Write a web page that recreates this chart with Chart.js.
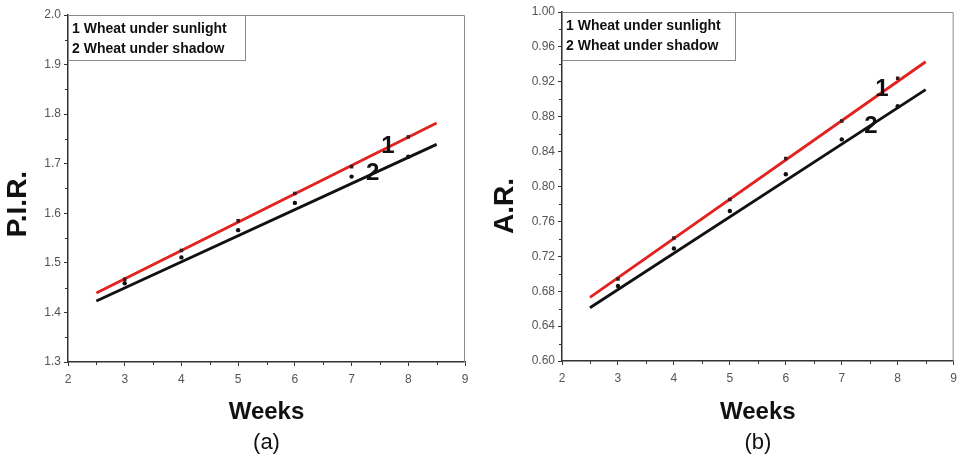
<!DOCTYPE html>
<html>
<head>
<meta charset="utf-8">
<script src="https://cdn.jsdelivr.net/npm/chart.js@4"></script>
<style>
    body { margin: 0; background: #fff; }
    .panel { position: absolute; top: 0; }
</style>
</head>
<body>
<div class="panel" style="left:0"><canvas id="chartA" width="480" height="460"></canvas></div>
<div class="panel" style="left:480px"><canvas id="chartB" width="483" height="460"></canvas></div>
<script>
// ===================== Data =====================
const weeks = [3, 4, 5, 6, 7, 8];
const pirSun = [1.467, 1.525, 1.585, 1.640, 1.694, 1.754];
const pirShade = [1.459, 1.511, 1.566, 1.621, 1.674, 1.714];
const arSun = [0.694, 0.741, 0.785, 0.832, 0.875, 0.924];
const arShade = [0.686, 0.729, 0.772, 0.814, 0.854, 0.892];

// fitted lines, start/end
const fitWeeks = [2.5, 8.5];
const pirSunFit = [1.439, 1.782];
const pirShadeFit = [1.423, 1.739];
const arSunFit = [0.673, 0.943];
const arShadeFit = [0.661, 0.911];

const legendLines = ['1 Wheat under sunlight', '2 Wheat under shadow'];
const curveTags = ['1', '2'];

const RED = '#e3211f';
const FONT = "'Liberation Sans', Arial, sans-serif";

function toPoints(xs, ys) {
    return xs.map((x, i) => ({ x: x, y: ys[i] }));
}

// ===================== Plugins =====================
// frame, minor ticks, legend box and curve tags
const decorPlugin = {
    id: 'decor',
    afterDraw(chart, args, opts) {
        const c = chart.ctx;
        const a = chart.chartArea;
        const xs = chart.scales.x;
        const ys = chart.scales.y;
        c.save();

        // top + right frame
        c.strokeStyle = '#8a8a8a';
        c.lineWidth = 1;
        c.beginPath();
        c.moveTo(a.left, a.top + 0.5);
        c.lineTo(a.right - 0.5, a.top + 0.5);
        c.lineTo(a.right - 0.5, a.bottom);
        c.stroke();

        // minor ticks
        c.strokeStyle = '#333';
        c.beginPath();
        for (let v = xs.min + 0.5; v < xs.max; v += 1) {
            const px = Math.round(xs.getPixelForValue(v)) + 0.5;
            c.moveTo(px, a.bottom);
            c.lineTo(px, a.bottom + 3);
        }
        const half = opts.yStep / 2;
        for (let v = ys.min + half; v < ys.max; v += opts.yStep) {
            const py = Math.round(ys.getPixelForValue(v)) + 0.5;
            c.moveTo(a.left, py);
            c.lineTo(a.left - 3, py);
        }
        c.stroke();

        // legend box
        c.strokeStyle = '#8a8a8a';
        c.strokeRect(a.left + 0.5, a.top + 0.5, opts.boxW, opts.boxH);
        c.fillStyle = '#111';
        c.font = 'bold 14px ' + FONT;
        c.textBaseline = 'middle';
        c.textAlign = 'left';
        legendLines.forEach((t, i) => {
            c.fillText(t, a.left + 4, a.top + 14 + i * 20);
        });

        // curve tags
        c.font = 'bold 24px ' + FONT;
        c.textAlign = 'center';
        c.fillStyle = '#111';
        curveTags.forEach((t, i) => {
            c.fillText(t, xs.getPixelForValue(opts.tagX[i]), ys.getPixelForValue(opts.tagY[i]));
        });
        c.restore();
    }
};

// ===================== Chart Builder =====================
function buildChart(id, cfg) {
    const ctx = document.getElementById(id).getContext('2d');
    return new Chart(ctx, {
        type: 'scatter',
        data: {
            datasets: [
                {
                    label: 'sun points',
                    data: toPoints(weeks, cfg.sun),
                    pointStyle: 'rect',
                    pointRadius: 2.5,
                    backgroundColor: '#3a1a1a',
                    borderColor: '#3a1a1a',
                    borderWidth: 0,
                    order: 0
                },
                {
                    label: 'sun fit',
                    data: toPoints(fitWeeks, cfg.sunFit),
                    showLine: true,
                    pointRadius: 0,
                    borderColor: RED,
                    borderWidth: 2.8,
                    order: 1
                },
                {
                    label: 'shade points',
                    data: toPoints(weeks, cfg.shade),
                    pointStyle: 'circle',
                    pointRadius: 2.2,
                    backgroundColor: '#111',
                    borderColor: '#111',
                    borderWidth: 0,
                    order: 2
                },
                {
                    label: 'shade fit',
                    data: toPoints(fitWeeks, cfg.shadeFit),
                    showLine: true,
                    pointRadius: 0,
                    borderColor: '#111',
                    borderWidth: 2.8,
                    order: 3
                }
            ]
        },
        options: {
            responsive: false,
            animation: false,
            events: [],
            layout: { padding: cfg.padding },
            plugins: {
                legend: { display: false },
                tooltip: { enabled: false },
                title: {
                    display: true,
                    position: 'bottom',
                    fullSize: false,
                    text: cfg.tag,
                    color: '#111',
                    font: { family: FONT, size: 22, weight: 'normal' },
                    padding: { top: 0, bottom: 4 }
                },
                decor: cfg.decor
            },
            scales: {
                x: {
                    type: 'linear',
                    min: 2,
                    max: 9,
                    afterFit: s => { s.height = cfg.xHeight; },
                    ticks: {
                        stepSize: 1,
                        color: '#555',
                        padding: 6,
                        font: { family: FONT, size: 12 }
                    },
                    grid: {
                        drawOnChartArea: false,
                        tickLength: 4,
                        tickColor: '#333'
                    },
                    border: { color: '#333', width: 1.5 },
                    title: {
                        display: true,
                        text: 'Weeks',
                        color: '#111',
                        font: { family: FONT, size: 24, weight: 'bold' },
                        padding: { top: 0, bottom: 3 }
                    }
                },
                y: {
                    min: cfg.yMin,
                    max: cfg.yMax,
                    afterFit: s => { s.width = cfg.yWidth; },
                    ticks: {
                        stepSize: cfg.yStep,
                        color: '#555',
                        padding: 3,
                        font: { family: FONT, size: 12 },
                        callback: v => Number(v).toFixed(cfg.digits)
                    },
                    grid: {
                        drawOnChartArea: false,
                        tickLength: 4,
                        tickColor: '#333'
                    },
                    border: { color: '#333', width: 1.5 },
                    title: {
                        display: true,
                        text: cfg.yTitle,
                        color: '#111',
                        font: { family: FONT, size: 28, weight: 'bold' },
                        padding: { top: cfg.yTitlePad, bottom: 0 }
                    }
                }
            }
        },
        plugins: [decorPlugin]
    });
}

// ===================== Auto Load =====================
buildChart('chartA', {
    sun: pirSun, shade: pirShade, sunFit: pirSunFit, shadeFit: pirShadeFit,
    yMin: 1.3, yMax: 2.0, yStep: 0.1, digits: 1,
    yTitle: 'P.I.R.    ', yTitlePad: 1, yWidth: 68, xHeight: 67.6,
    padding: { left: 0, right: 15, top: 15, bottom: 0 },
    tag: '(a)',
    decor: { yStep: 0.1, boxW: 177, boxH: 45, tagX: [7.64, 7.37], tagY: [1.734, 1.681] }
});

buildChart('chartB', {
    sun: arSun, shade: arShade, sunFit: arSunFit, shadeFit: arShadeFit,
    yMin: 0.6, yMax: 1.0, yStep: 0.04, digits: 2,
    yTitle: 'A.R.     ', yTitlePad: 8, yWidth: 82, xHeight: 68.6,
    padding: { left: 0, right: 8, top: 12, bottom: 0 },
    tag: '(b)',
    decor: { yStep: 0.04, boxW: 173, boxH: 48, tagX: [7.72, 7.52], tagY: [0.911, 0.869] }
});
</script>
</body>
</html>
